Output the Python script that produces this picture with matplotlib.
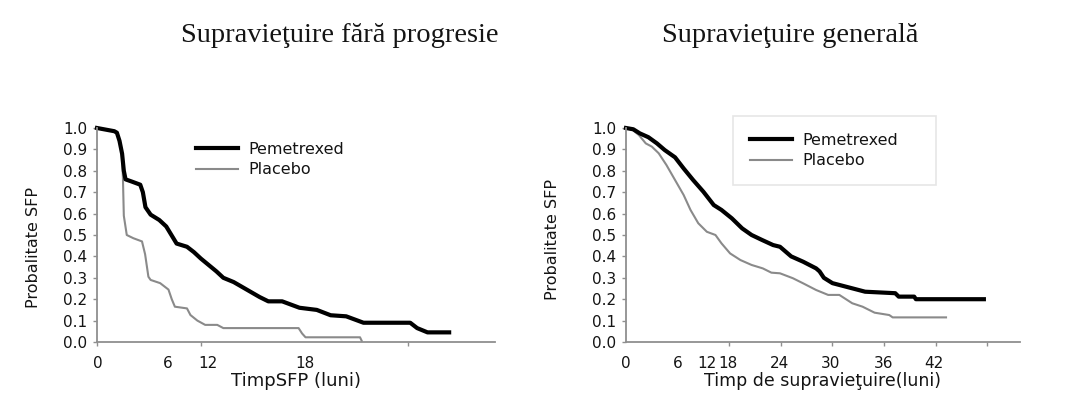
import matplotlib
matplotlib.use("Agg")
import matplotlib.pyplot as plt
from matplotlib.patches import Rectangle

# Progression-free survival (left panel), x in axis tick units
pfs_pem_t = [0, 1.0, 1.15, 1.3, 1.45, 1.55, 1.65, 2.0, 2.5, 2.65, 2.8, 3.1, 3.6, 4.0, 4.3, 4.6,
             5.2, 5.6, 6.0, 6.45, 6.9, 7.3, 7.9, 8.65, 9.4, 9.9, 10.7, 11.7, 12.7, 13.5, 14.4,
             15.4, 18.1, 18.5, 19.1, 20.35]
pfs_pem_s = [1.0, 0.985, 0.978, 0.94, 0.88, 0.80, 0.76, 0.75, 0.735, 0.70, 0.63, 0.595, 0.57, 0.54,
             0.50, 0.46, 0.445, 0.42, 0.39, 0.36, 0.33, 0.30, 0.28, 0.245, 0.21, 0.19, 0.19, 0.16,
             0.15, 0.125, 0.12, 0.09, 0.09, 0.065, 0.045, 0.045]
pfs_pla_t = [0, 1.0, 1.15, 1.3, 1.45, 1.5, 1.55, 1.72, 2.1, 2.6, 2.78, 2.97, 3.1, 3.65, 4.13, 4.32,
             4.5, 5.2, 5.4, 5.8, 6.25, 6.95, 7.3, 11.65, 11.85, 12.05, 15.2, 15.3]
pfs_pla_s = [1.0, 0.985, 0.978, 0.94, 0.88, 0.76, 0.59, 0.50, 0.485, 0.47, 0.41, 0.305, 0.29, 0.275,
             0.245, 0.20, 0.165, 0.157, 0.126, 0.10, 0.08, 0.08, 0.065, 0.065, 0.04, 0.022, 0.022,
             0.005]

# Overall survival (right panel)
os_pem_t = [0, 0.85, 1.6, 2.6, 3.6, 4.5, 5.7, 6.7, 7.8, 9.0, 10.2, 11.1, 12.3, 13.5, 14.6, 15.8,
            17.1, 17.9, 19.2, 20.6, 22.1, 22.5, 23.0, 24.0, 25.9, 27.8, 31.3, 31.7, 33.5, 33.7, 41.6]
os_pem_s = [1.0, 0.994, 0.975, 0.957, 0.928, 0.897, 0.863, 0.811, 0.757, 0.702, 0.64, 0.617, 0.578,
            0.531, 0.50, 0.477, 0.453, 0.445, 0.40, 0.375, 0.344, 0.33, 0.30, 0.275, 0.255, 0.235,
            0.228, 0.212, 0.212, 0.20, 0.20]
os_pla_t = [0, 0.8, 1.5, 2.3, 3.0, 3.8, 4.7, 5.7, 6.7, 7.5, 8.4, 9.4, 10.4, 11.1, 12.1, 13.3, 14.6,
            15.9, 16.9, 17.9, 19.4, 20.6, 22.1, 23.5, 24.8, 26.3, 27.5, 28.9, 30.6, 31.0, 37.2]
os_pla_s = [1.0, 0.99, 0.967, 0.928, 0.913, 0.882, 0.827, 0.757, 0.687, 0.617, 0.555, 0.515, 0.50,
            0.461, 0.414, 0.383, 0.36, 0.344, 0.324, 0.321, 0.298, 0.274, 0.243, 0.22, 0.22, 0.181,
            0.165, 0.137, 0.126, 0.115, 0.115]

series_names = ["Pemetrexed", "Placebo"]
titles = ["Supravieţuire fără progresie", "Supravieţuire generală"]
ylabel = "Probalitate SFP"
xlabels = ["TimpSFP (luni)", "Timp de supravieţuire(luni)"]

pfs_tick_marks = [0, 6, 12, 18]
pfs_label_pos = [0.05, 4.1, 6.4, 12.0]
pfs_label_txt = ["0", "6", "12", "18"]
os_tick_marks = [0, 6, 12, 18, 24, 30, 36, 42]
os_label_pos = [0, 6.0, 9.4, 11.9, 17.8, 23.8, 29.9, 35.8]
os_label_txt = ["0", "6", "12", "18", "24", "30", "36", "42"]
y_ticks = [i / 10 for i in range(11)]

W, H = 1079, 409
fig = plt.figure(figsize=(W / 100, H / 100), dpi=100)
fig.patch.set_facecolor("white")


def px_box(x0, x1, y_top, y_bot):
    return [x0 / W, 1 - y_bot / H, (x1 - x0) / W, (y_bot - y_top) / H]


AX_GRAY = "#8f8f8f"
TXT = "#141414"


def style_axes(ax, xmax, marks, label_pos, label_txt, xlabel, xl_size, ylab_xy):
    ax.set_xlim(0, xmax)
    ax.set_ylim(0, 1.0)
    for side in ("top", "right"):
        ax.spines[side].set_visible(False)
    for side in ("left", "bottom"):
        ax.spines[side].set_color(AX_GRAY)
        ax.spines[side].set_linewidth(1.3)
    ax.set_xticks(label_pos)
    ax.set_xticklabels(label_txt)
    ax.set_xticks(marks, minor=True)
    ax.tick_params(axis="x", which="major", length=0, pad=10, labelsize=11, labelcolor=TXT)
    ax.tick_params(axis="x", which="minor", length=3, width=1, color=AX_GRAY, direction="out")
    ax.set_yticks(y_ticks)
    ax.set_yticklabels([f"{v:.1f}" for v in y_ticks])
    ax.tick_params(axis="y", length=3, width=1, color=AX_GRAY, pad=4, labelsize=11, labelcolor=TXT)
    ax.set_xlabel(xlabel, fontsize=xl_size, color=TXT)
    ax.xaxis.set_label_coords(0.5, -0.142)
    ax.set_ylabel(ylabel, fontsize=11.5, color=TXT)
    ax.yaxis.set_label_coords(*ylab_xy)


ax1 = fig.add_axes(px_box(97, 495, 128, 342))
ax1.plot(pfs_pla_t, pfs_pla_s, color="#8a8a8a", lw=1.5, label=series_names[1], clip_on=False)
ax1.plot(pfs_pem_t, pfs_pem_s, color="black", lw=3.0, label=series_names[0], clip_on=False)
style_axes(ax1, 23.0, pfs_tick_marks, pfs_label_pos, pfs_label_txt, xlabels[0], 13, (-0.141, 0.44))

ax2 = fig.add_axes(px_box(626, 1020, 128, 342))
ax2.plot(os_pla_t, os_pla_s, color="#8a8a8a", lw=1.5, label=series_names[1], clip_on=False)
ax2.plot(os_pem_t, os_pem_s, color="black", lw=3.0, label=series_names[0], clip_on=False)
style_axes(ax2, 45.8, os_tick_marks, os_label_pos, os_label_txt, xlabels[1], 12.5, (-0.1675, 0.48))

for ax, anchor in ((ax1, (196, 142)), (ax2, (750, 133))):
    handles, labels = ax.get_legend_handles_labels()
    leg = ax.legend(handles[::-1], labels[::-1], loc="upper left",
                    bbox_to_anchor=(anchor[0] / W, 1 - anchor[1] / H),
                    bbox_transform=fig.transFigure, frameon=False, fontsize=11.5,
                    handlelength=2.6, handletextpad=0.7, labelspacing=0.32,
                    borderpad=0, borderaxespad=0)
    for t in leg.get_texts():
        t.set_color(TXT)

# light box around the right legend
fig.patches.append(Rectangle((733 / W, 1 - 185 / H), (936 - 733) / W, (185 - 116) / H,
                             transform=fig.transFigure, fill=False, edgecolor="#e6e6e6", lw=1.2))

fig.text(340 / W, 1 - 35 / H, titles[0], ha="center", va="center",
         family="Liberation Serif", fontsize=20.5, color=TXT)
fig.text(790 / W, 1 - 35 / H, titles[1], ha="center", va="center",
         family="Liberation Serif", fontsize=20.5, color=TXT)

fig.savefig("out.png", dpi=100)
